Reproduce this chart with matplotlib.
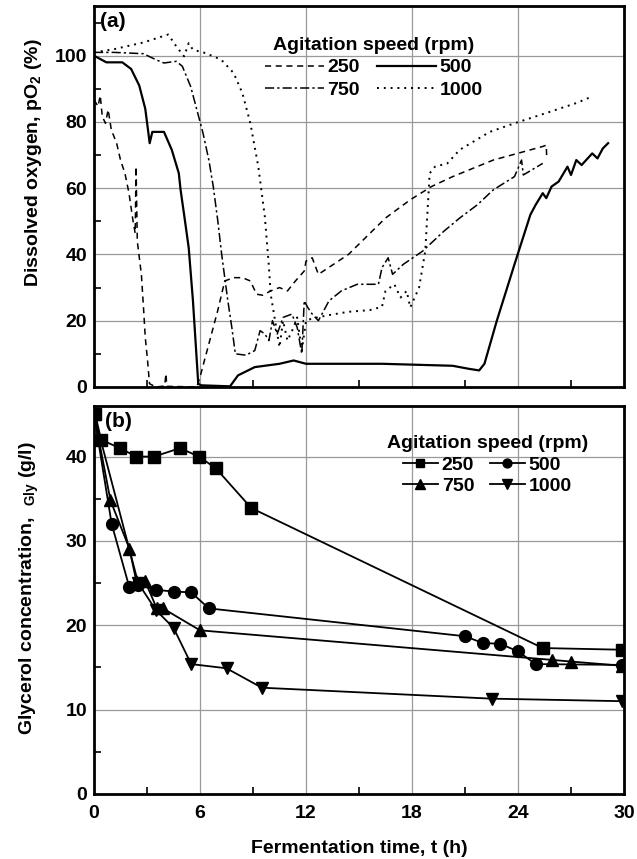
import matplotlib
matplotlib.use("Agg")
import matplotlib.pyplot as plt
from matplotlib.ticker import MultipleLocator

plt.rcParams['font.family'] = ['Liberation Sans', 'DejaVu Sans']
plt.rcParams['font.weight'] = 'bold'
plt.rcParams['mathtext.fontset'] = 'custom'
plt.rcParams['mathtext.rm'] = 'Liberation Sans'
plt.rcParams['mathtext.bf'] = 'Liberation Sans:bold'

# (a) dissolved oxygen traces
t_250 = [0, 0.23, 0.35, 0.47, 0.65, 0.8, 0.98, 1.28, 1.5, 1.75, 1.98, 2.2, 2.33, 2.38, 2.45,
         2.68, 2.8, 2.9, 3.03, 3.14, 3.5, 4.0, 4.07, 4.12, 5.82, 6.05, 6.5, 7.0, 7.4, 7.9,
         8.4, 8.85, 9.2, 9.55, 10.0, 10.5, 10.95, 11.4, 11.9, 12.0, 12.35, 12.7, 14.4,
         16.5, 17.9, 19.1, 20.3, 22.6, 25.4, 25.6, 25.62]
do_250 = [86.7, 84.7, 88, 81.6, 79.6, 83.7, 77.6, 73.6, 68.5, 64.5, 58.5, 50.4, 46.4, 66.5, 44,
          34, 24, 15, 8, 1, 0, 0.3, 4, 0.2, 0, 4, 13, 23, 32, 33,
          33, 32, 28, 27.7, 29, 30, 29, 32, 35, 38, 39, 34, 40,
          51, 56.5, 60.5, 63.5, 68.5, 72.6, 73, 70]

t_500 = [0, 0.7, 1.6, 2.1, 2.56, 2.9, 3.07, 3.15, 3.3, 3.96, 4.4, 4.8, 4.9, 5.1, 5.36, 5.6,
         5.78, 5.9, 6.05, 7.7, 8.15, 9.1, 10.5, 11.3, 12.0, 16.3, 20.3, 21.2, 21.8, 22.1,
         22.8, 23.8, 24.7, 25.0, 25.4, 25.6, 25.9, 26.3, 26.8, 27.0, 27.3, 27.6, 28.2,
         28.5, 28.8, 29.1]
do_500 = [100, 98, 98, 96, 91, 84, 77, 73.6, 77, 77, 71.6, 64.5, 59.5, 52, 42, 26,
          11, 1, 0.5, 0.2, 3.5, 6, 7, 8, 7, 7, 6.4, 5.5, 5, 7,
          20, 37, 52, 55, 58.5, 57, 60.5, 62, 66.5, 64, 68.5, 67, 70.5,
          69, 72, 73.6]

t_750 = [0, 1.16, 2.8, 3.5, 3.96, 4.66, 5.0, 5.47, 5.82, 6.17, 6.5, 6.75, 7.0, 7.22, 7.4,
         7.57, 7.8, 8.0, 8.6, 9.1, 9.4, 9.67, 9.9, 10.1, 10.37, 10.7, 11.2, 11.5, 11.76,
         11.9, 12.1, 12.35, 12.7, 13.3, 14.0, 14.9, 16.1, 16.3, 16.65, 16.9, 17.5, 18.6,
         19.8, 20.7, 21.7, 22.6, 23.8, 24.2, 24.3, 25.4]
do_750 = [101, 101, 100.6, 98.8, 97.8, 98.3, 96.8, 90.7, 83.7, 76.6, 68.5, 60.5, 50.4, 40.3, 33,
          26.2, 18, 10, 9.6, 11, 17, 16, 14, 20, 16, 21, 22, 18, 10,
          26, 24, 22, 20, 26, 29, 31, 31, 36, 39, 34, 37, 41,
          47, 51, 55, 59.5, 63.5, 68.5, 64, 67.5]

t_1000 = [0, 1.16, 2.8, 4.2, 4.66, 5.1, 5.36, 5.6, 6.3, 7.2, 7.9, 8.4, 8.85, 9.3, 9.67, 9.9,
          10.0, 10.25, 10.5, 10.7, 10.95, 11.3, 11.5, 11.76, 12.0, 12.35, 13.3, 14.4, 15.6,
          16.3, 16.5, 17.0, 17.35, 17.7, 17.9, 18.4, 18.75, 19.0, 19.3, 20.0, 20.7, 22.4,
          23.8, 25.6, 27.3, 28.2]
do_1000 = [101, 102, 104, 106.4, 102.8, 99.8, 103.8, 101.8, 100.8, 98.8, 94.8, 88.7, 79.6, 66.5, 51.4, 36.3,
           28, 20, 12, 20, 14, 18, 21, 11, 20, 20.7, 21.7, 22.7, 23.2,
           24.2, 29, 31, 27, 29, 24, 30, 41, 64.5, 66.5, 67.5, 71.6, 77,
           79.6, 82.7, 85.7, 87.7]

# (b) glycerol concentration
g_t_250 = [0.07, 0.4, 1.46, 2.4, 3.4, 4.87, 5.94, 6.9, 8.9, 25.4, 29.9]
g_250 = [45, 42, 41, 40, 40, 41, 40, 38.6, 33.9, 17.3, 17.1]
g_t_500 = [0, 1.0, 2.0, 2.5, 3.5, 4.5, 5.5, 6.5, 21.0, 22.0, 23.0, 24.0, 25.0, 29.9]
g_500 = [45, 32, 24.5, 24.8, 24.2, 24.0, 23.9, 22.0, 18.7, 17.9, 17.8, 16.9, 15.4, 15.3]
g_t_750 = [0, 0.93, 2.0, 2.4, 2.9, 3.55, 3.9, 6.0, 25.9, 27.0, 29.9]
g_750 = [45, 34.8, 29.1, 25.2, 25.2, 22.0, 22.0, 19.4, 15.9, 15.7, 15.2]
g_t_1000 = [0, 2.5, 3.5, 4.5, 5.5, 7.5, 9.5, 22.5, 29.9]
g_1000 = [45, 25, 21.8, 19.7, 15.4, 14.9, 12.6, 11.3, 11.0]

fig = plt.figure(figsize=(6.37, 8.59), dpi=100)
ax1 = fig.add_axes([0.1476, 0.5495, 0.832, 0.4435])
ax2 = fig.add_axes([0.1476, 0.0757, 0.832, 0.4517])

l250, = ax1.plot(t_250, do_250, color='black', lw=1.1, dashes=(4, 3), label='250')
l500, = ax1.plot(t_500, do_500, color='black', lw=1.6, label='500')
l750, = ax1.plot(t_750, do_750, color='black', lw=1.1, dashes=(6, 2, 1.5, 2), label='750')
l1000, = ax1.plot(t_1000, do_1000, color='black', lw=1.4, dashes=(1, 2.5), label='1000')

ax2.plot(g_t_250, g_250, color='black', lw=1.3, marker='s', ms=8, label='250')
ax2.plot(g_t_500, g_500, color='black', lw=1.3, marker='o', ms=8.5, label='500')
ax2.plot(g_t_750, g_750, color='black', lw=1.3, marker='^', ms=9, label='750')
ax2.plot(g_t_1000, g_1000, color='black', lw=1.3, marker='v', ms=9, label='1000')

for ax in (ax1, ax2):
    ax.set_xlim(0, 30)
    ax.xaxis.set_major_locator(MultipleLocator(6))
    ax.xaxis.set_minor_locator(MultipleLocator(3))
    ax.grid(True, which='major', color='#999999', lw=0.9)
    ax.tick_params(which='both', direction='in', labelsize=14, width=1.2)
    ax.tick_params(which='major', length=0, pad=5)
    ax.tick_params(which='minor', length=5)
    for s in ax.spines.values():
        s.set_linewidth(2)
    ax.set_axisbelow(True)

ax1.set_ylim(0, 115)
ax1.set_yticks([0, 20, 40, 60, 80, 100])
ax1.yaxis.set_minor_locator(MultipleLocator(10))
ax1.set_xticklabels([])
ax1.set_ylabel('Dissolved oxygen, pO$_{\\mathbf{2}}$ (%)', fontsize=14, fontweight='bold')
ax1.yaxis.set_label_coords(-0.095, 0.59)
ax1.text(0.012, 0.985, '(a)', transform=ax1.transAxes, fontsize=15, fontweight='bold', va='top')

ax2.set_ylim(0, 46)
ax2.set_yticks([0, 10, 20, 30, 40])
ax2.yaxis.set_minor_locator(MultipleLocator(5))
ax2.tick_params(axis='x', which='major', pad=8)
ax2.set_ylabel('Glycerol concentration, $\\;_{\\rm Gly}$ (g/l)', fontsize=14, fontweight='bold')
ax2.yaxis.set_label_coords(-0.1, 0.53)
ax2.set_xlabel('Fermentation time, t (h)', fontsize=14, fontweight='bold', labelpad=13)
ax2.text(0.02, 0.985, '(b)', transform=ax2.transAxes, fontsize=15, fontweight='bold', va='top')

leg1 = ax1.legend(handles=[l250, l750, l500, l1000], ncol=2, frameon=False,
                  title='Agitation speed (rpm)', loc='upper left', bbox_to_anchor=(0.29, 0.965),
                  fontsize=14, title_fontproperties={'weight': 'bold', 'size': 14},
                  handlelength=3.0, handletextpad=0.2, columnspacing=0.9, labelspacing=0.25)
h = ax2.get_legend_handles_labels()[0]
leg2 = ax2.legend(handles=[h[0], h[2], h[1], h[3]], ncol=2, frameon=False,
                  title='Agitation speed (rpm)', loc='upper right', bbox_to_anchor=(0.965, 0.97),
                  fontsize=14, title_fontproperties={'weight': 'bold', 'size': 14},
                  handlelength=1.8, handletextpad=0.2, columnspacing=0.8, labelspacing=0.2,
                  markerscale=0.75)

fig.savefig('out.png', dpi=100)
